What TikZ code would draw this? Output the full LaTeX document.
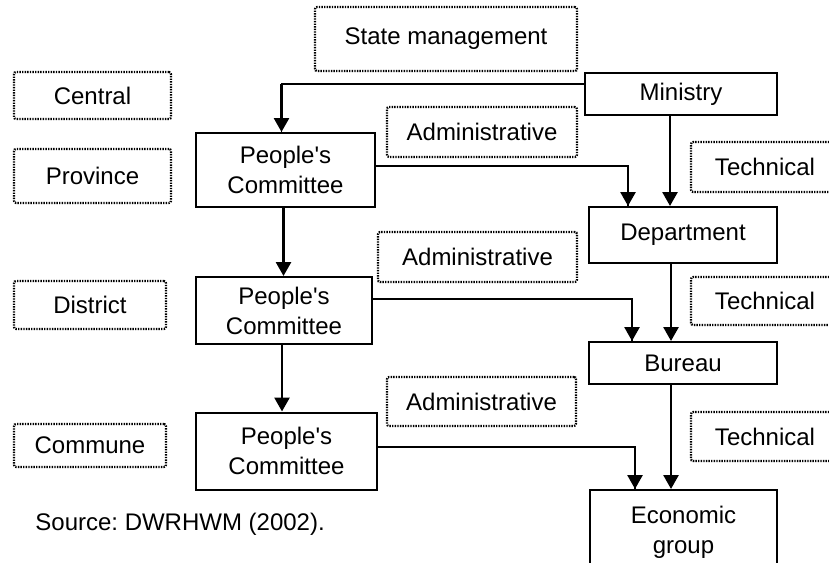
\documentclass[tikz,border=0pt]{standalone}
\usepackage{fontspec}
\setmainfont{Liberation Sans}
\usetikzlibrary{arrows.meta}
\frenchspacing

\begin{document}
\begin{tikzpicture}[x = 0.5pt, y = -0.5pt,
  every node/.style = {inner sep = 0pt, align = center, font = \fontsize{12}{15}\selectfont},
  unit/.style = {draw, line width = 1pt, minimum width = #1},
  tag/.style = {draw, dash pattern = on 0.7pt off 0.6pt, line width = 1.1pt, rounded corners = 1pt, minimum width = #1},
  wire/.style = {line width = 0.75pt},
  arr/.style = {line width = 1.35pt, -{Triangle[length = 7pt, width = 7.5pt]}}]
\path[use as bounding box, clip] (0,0) rectangle (829,562);
\node[tag = 131pt, minimum height = 32pt] (state) at (446,39) {State management};
\node[tag = 78.5pt, minimum height = 23.5pt] (central) at (92.5,95.5) {Central};
\node[tag = 78.5pt, minimum height = 27pt] (province) at (92.5,176) {Province};
\node[tag = 76pt, minimum height = 24pt] (district) at (90,305) {District};
\node[tag = 76pt, minimum height = 21.5pt] (commune) at (90,445.5) {Commune};
\node[unit = 96pt, minimum height = 21pt] (ministry) at (681,94) {Ministry};
\node[unit = 89.5pt, minimum height = 37pt] (pc1) at (285.5,170) {People\textquotesingle s\\Committee};
\node[unit = 88pt, minimum height = 33.5pt] (pc2) at (284,310.5) {People\textquotesingle s\\Committee};
\node[unit = 90.5pt, minimum height = 38.5pt] (pc3) at (286.5,451) {People\textquotesingle s\\Committee};
\node[tag = 95pt, minimum height = 25pt] (admin1) at (482,132) {Administrative};
\node[tag = 99.5pt, minimum height = 25pt] (admin2) at (477.5,257) {Administrative};
\node[tag = 94.5pt, minimum height = 24.5pt] (admin3) at (481.5,401.5) {Administrative};
\node[unit = 94pt, minimum height = 28pt] (dept) at (683,235) {Department};
\node[unit = 94pt, minimum height = 21pt] (bureau) at (683,363) {Bureau};
\node[unit = 93.5pt, minimum height = 42.5pt] (econ) at (683.5,532.5) {Economic\\group};
\node[tag = 74pt, minimum height = 25pt] (tech1) at (765,167) {Technical};
\node[tag = 74pt, minimum height = 24pt] (tech2) at (765,301) {Technical};
\node[tag = 74pt, minimum height = 24.5pt] (tech3) at (765,436.5) {Technical};
\node[anchor = base west] (source) at (35,530) {Source: DWRHWM (2002).};
\coordinate (m0) at ([yshift = 5pt]ministry.west);
\coordinate (m1) at ([xshift = -2pt]pc1.north);
\coordinate (p1) at ([yshift = 2pt]pc1.east);
\coordinate (d1) at ([xshift = -27.5pt]dept.north);
\coordinate (p2) at ([yshift = 5.75pt]pc2.east);
\coordinate (b1) at ([xshift = -25.5pt]bureau.north);
\coordinate (p3) at ([yshift = 2pt]pc3.east);
\coordinate (e1) at ([xshift = -24.25pt]econ.north);
\draw[wire] (m0) -| (m1);
\draw[arr] (m1 |- m0) -- (m1);
\draw[wire] (p1) -| (d1);
\draw[arr] (d1 |- p1) -- (d1);
\draw[wire] (p2) -| (b1);
\draw[arr] (b1 |- p2) -- (b1);
\draw[wire] (p3) -| (e1);
\draw[arr] (e1 |- p3) -- (e1);
\draw[arr] ([xshift = -1pt]pc1.south) -- ([xshift = -1pt]pc1.south |- pc2.north);
\draw[arr] ([xshift = -1pt]pc2.south) -- ([xshift = -1pt]pc2.south |- pc3.north);
\draw[arr] ([xshift = -5.5pt]ministry.south) -- ([xshift = -5.5pt]ministry.south |- dept.north);
\draw[arr] ([xshift = -6pt]dept.south) -- ([xshift = -6pt]dept.south |- bureau.north);
\draw[arr] ([xshift = -6pt]bureau.south) -- ([xshift = -6pt]bureau.south |- econ.north);
\end{tikzpicture}
\end{document}
